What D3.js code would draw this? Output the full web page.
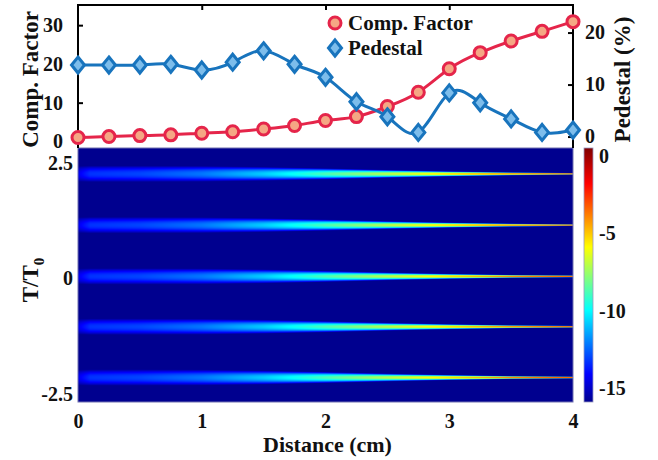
<!DOCTYPE html>
<html>
<head>
<meta charset="utf-8">
<script src="https://cdn.jsdelivr.net/npm/d3@7"></script>
<style>
  body { margin: 0; background: #fff; }
  text { font-family: "Liberation Serif", "Times New Roman", serif; font-weight: bold; fill: #111; }
</style>
</head>
<body>
<div id="chart"></div>
<script>
// top panel data (x = distance in cm)
var distance = [0, 0.25, 0.5, 0.75, 1, 1.25, 1.5, 1.75, 2, 2.25, 2.5, 2.75, 3, 3.25, 3.5, 3.75, 4];
var compFactor = [1.0, 1.25, 1.5, 1.7, 2.1, 2.5, 3.2, 4.1, 5.4, 6.4, 9.0, 12.7, 18.75, 22.9, 25.9, 28.4, 30.9];
var pedestal = [13.75, 13.75, 13.75, 13.9, 12.8, 14.3, 16.5, 13.9, 11.4, 6.7, 3.8, 0.8, 8.4, 6.5, 3.4, 0.8, 1.25];

// bottom panel: pulse positions (T/T0) and their peak level / half width along the distance
var pulseCenters = [2.26, 1.15, 0.04, -1.05, -2.15];
var stations = [0, 0.1, 0.5, 1, 1.5, 2, 2.5, 3, 3.5, 4];
var peakDb = [-14.4, -13.3, -13.0, -12.2, -10.8, -8.8, -7.0, -5.3, -3.6, -2.2];
var halfWidth = [0.17, 0.175, 0.175, 0.17, 0.15, 0.12, 0.085, 0.055, 0.032, 0.02];
var floorDb = -15.9;

var xTicks = [0, 1, 2, 3, 4];
var tTicks = [2.5, 0, -2.5];
var cfTicks = [0, 10, 20, 30];
var pedTicks = [0, 10, 20];
var cbTicks = [0, -5, -10, -15];

var W = 658, H = 460;
var left = 78, right = 573;
var topY = 5, midY = 148, botY = 402;

var svg = d3.select("#chart").append("svg")
    .attr("width", W)
    .attr("height", H);

var x = d3.scaleLinear().domain([0, 4]).range([left, right]);
var yCF = d3.scaleLinear().domain([-1.7, 35.2]).range([midY, topY]);
var yPed = d3.scaleLinear().domain([-2.2, 25.3]).range([midY, topY]);
var yT = d3.scaleLinear().domain([-2.68, 2.82]).range([botY, midY]);
var yCb = d3.scaleLinear().domain([floorDb, 0.5]).range([botY, midY]);

// jet colormap
var jetT = [0, 0.11, 0.36, 0.61, 0.86, 1];
var jetC = ["#00008f", "#0000ff", "#00ffff", "#ffff00", "#ff0000", "#800000"];
var jetScale = d3.scaleLinear()
    .domain(jetT.map(function(t) { return floorDb + t * (0.5 - floorDb); }))
    .range(jetC)
    .clamp(true);

// ---------- heatmap ----------
var peakAt = d3.scaleLinear().domain(stations).range(peakDb).clamp(true);
var widthAt = d3.scaleLinear().domain(stations).range(halfWidth).clamp(true);

var cw = right - left, ch = botY - midY;
var canvas = document.createElement("canvas");
canvas.width = cw;
canvas.height = ch;
var ctx = canvas.getContext("2d");
var img = ctx.createImageData(cw, ch);
var sub = 5;
for (var px = 0; px < cw; px++) {
    var d = x.invert(left + px + 0.5);
    var pk = peakAt(d), hw = widthAt(d);
    for (var py = 0; py < ch; py++) {
        var r = 0, g = 0, b = 0;
        for (var s = 0; s < sub; s++) {
            var t = yT.invert(midY + py + (s + 0.5) / sub);
            var v = floorDb;
            for (var k = 0; k < pulseCenters.length; k++) {
                var u = (t - pulseCenters[k]) / hw;
                var val = pk - (pk - floorDb) * u * u;
                if (val > v) v = val;
            }
            var c = d3.rgb(jetScale(v));
            r += c.r; g += c.g; b += c.b;
        }
        var idx = (py * cw + px) * 4;
        img.data[idx] = r / sub;
        img.data[idx + 1] = g / sub;
        img.data[idx + 2] = b / sub;
        img.data[idx + 3] = 255;
    }
}
ctx.putImageData(img, 0, 0);

svg.append("image")
    .attr("x", left).attr("y", midY)
    .attr("width", cw).attr("height", ch)
    .attr("preserveAspectRatio", "none")
    .attr("href", canvas.toDataURL());

svg.append("rect")
    .attr("x", left).attr("y", midY)
    .attr("width", cw).attr("height", ch)
    .attr("fill", "none")
    .attr("stroke", "#7070b0")
    .attr("stroke-width", 1);

// x axis (bottom)
svg.append("g")
    .attr("transform", "translate(0," + botY + ")")
    .call(d3.axisBottom(x).tickValues(xTicks).tickFormat(d3.format("d")).tickSize(0))
    .call(function(g) {
        g.select(".domain").remove();
        g.selectAll("text").attr("y", 26).attr("dy", 0)
            .style("font-size", "20px").style("font-family", null);
    });

svg.append("text")
    .attr("x", (left + right) / 2 + 2)
    .attr("y", 452)
    .attr("text-anchor", "middle")
    .style("font-size", "22px")
    .text("Distance (cm)");

// T/T0 axis
svg.append("g")
    .attr("transform", "translate(" + left + ",0)")
    .call(d3.axisLeft(yT).tickValues(tTicks).tickFormat(function(d) { return d; }).tickSize(0).tickPadding(5))
    .call(function(g) {
        g.select(".domain").remove();
        g.selectAll("text").style("font-size", "20px").style("font-family", null);
    });

var tl = svg.append("text")
    .attr("transform", "translate(38,280) rotate(-90)")
    .attr("text-anchor", "middle")
    .style("font-size", "23px");
tl.append("tspan").text("T/T");
tl.append("tspan").attr("dy", 6).style("font-size", "15px").text("0");

// ---------- colorbar ----------
var cbX = 584, cbW = 9;
var grad = svg.append("defs").append("linearGradient")
    .attr("id", "jet")
    .attr("x1", 0).attr("y1", 1).attr("x2", 0).attr("y2", 0);
jetT.forEach(function(t, i) {
    grad.append("stop").attr("offset", t).attr("stop-color", jetC[i]);
});
svg.append("rect")
    .attr("x", cbX).attr("y", midY)
    .attr("width", cbW).attr("height", ch)
    .attr("fill", "url(#jet)")
    .attr("stroke", "#9a9ac0")
    .attr("stroke-width", 0.8);

svg.append("g")
    .attr("transform", "translate(" + (cbX + cbW) + ",0)")
    .call(d3.axisRight(yCb).tickValues(cbTicks).tickFormat(function(d) { return d; }).tickSize(0).tickPadding(6))
    .call(function(g) {
        g.select(".domain").remove();
        g.selectAll("text").style("font-size", "20px").style("font-family", null);
    });

// ---------- top panel ----------
var topPanel = svg.append("g");

topPanel.append("g")
    .attr("transform", "translate(" + left + ",0)")
    .call(d3.axisLeft(yCF).tickValues(cfTicks).tickSizeInner(-5).tickSizeOuter(0).tickPadding(15))
    .call(function(g) {
        g.select(".domain").remove();
        g.selectAll("line").attr("stroke-width", 2);
        g.selectAll("text").style("font-size", "20px").style("font-family", null);
    });

topPanel.append("g")
    .attr("transform", "translate(" + right + ",0)")
    .call(d3.axisRight(yPed).tickValues(pedTicks).tickSizeInner(-5).tickSizeOuter(0).tickPadding(12))
    .call(function(g) {
        g.select(".domain").remove();
        g.selectAll("line").attr("stroke-width", 2);
        g.selectAll("text").style("font-size", "20px").style("font-family", null);
    });

topPanel.append("g")
    .attr("transform", "translate(0," + topY + ")")
    .call(d3.axisTop(x).tickValues([1, 2, 3]).tickSizeInner(-5).tickSizeOuter(0).tickFormat(""))
    .call(function(g) {
        g.select(".domain").remove();
        g.selectAll("line").attr("stroke-width", 2);
    });

// frame
topPanel.append("path")
    .attr("d", "M" + left + "," + midY + "V" + topY + "H" + right + "V" + midY)
    .attr("fill", "none")
    .attr("stroke", "#000")
    .attr("stroke-width", 2);

svg.append("text")
    .attr("transform", "translate(38," + ((topY + midY) / 2 + 3) + ") rotate(-90)")
    .attr("text-anchor", "middle")
    .style("font-size", "23px")
    .text("Comp. Factor");

svg.append("text")
    .attr("transform", "translate(630," + ((topY + midY) / 2 + 3) + ") rotate(-90)")
    .attr("text-anchor", "middle")
    .style("font-size", "23px")
    .text("Pedestal (%)");

var redLine = "#e5254a", redFill = "#f5a784";
var blueLine = "#1874bd", blueFill = "#7dbdeb";

var cfData = distance.map(function(d, i) { return [d, compFactor[i]]; });
var pedData = distance.map(function(d, i) { return [d, pedestal[i]]; });

topPanel.append("path")
    .datum(cfData)
    .attr("fill", "none")
    .attr("stroke", redLine)
    .attr("stroke-width", 3)
    .attr("d", d3.line().curve(d3.curveNatural)
        .x(function(d) { return x(d[0]); })
        .y(function(d) { return yCF(d[1]); }));

topPanel.selectAll(".cf")
    .data(cfData)
    .enter().append("circle")
    .attr("class", "cf")
    .attr("cx", function(d) { return x(d[0]); })
    .attr("cy", function(d) { return yCF(d[1]); })
    .attr("r", 6)
    .attr("fill", redFill)
    .attr("stroke", redLine)
    .attr("stroke-width", 3);

topPanel.append("path")
    .datum(pedData)
    .attr("fill", "none")
    .attr("stroke", blueLine)
    .attr("stroke-width", 3)
    .attr("d", d3.line().curve(d3.curveNatural)
        .x(function(d) { return x(d[0]); })
        .y(function(d) { return yPed(d[1]); }));

var diamond = "M0,-8L6.5,0L0,8L-6.5,0Z";
topPanel.selectAll(".ped")
    .data(pedData)
    .enter().append("path")
    .attr("class", "ped")
    .attr("transform", function(d) { return "translate(" + x(d[0]) + "," + yPed(d[1]) + ")"; })
    .attr("d", diamond)
    .attr("fill", blueFill)
    .attr("stroke", blueLine)
    .attr("stroke-width", 3)
    .attr("stroke-linejoin", "miter");

// legend
var lg = svg.append("g");
lg.append("circle")
    .attr("cx", 335).attr("cy", 23).attr("r", 6)
    .attr("fill", redFill).attr("stroke", redLine).attr("stroke-width", 3);
lg.append("text").attr("x", 348).attr("y", 30).style("font-size", "21px").text("Comp. Factor");
lg.append("path")
    .attr("transform", "translate(335,48)")
    .attr("d", diamond)
    .attr("fill", blueFill).attr("stroke", blueLine).attr("stroke-width", 3);
lg.append("text").attr("x", 348).attr("y", 55).style("font-size", "21px").text("Pedestal");
</script>
</body>
</html>
